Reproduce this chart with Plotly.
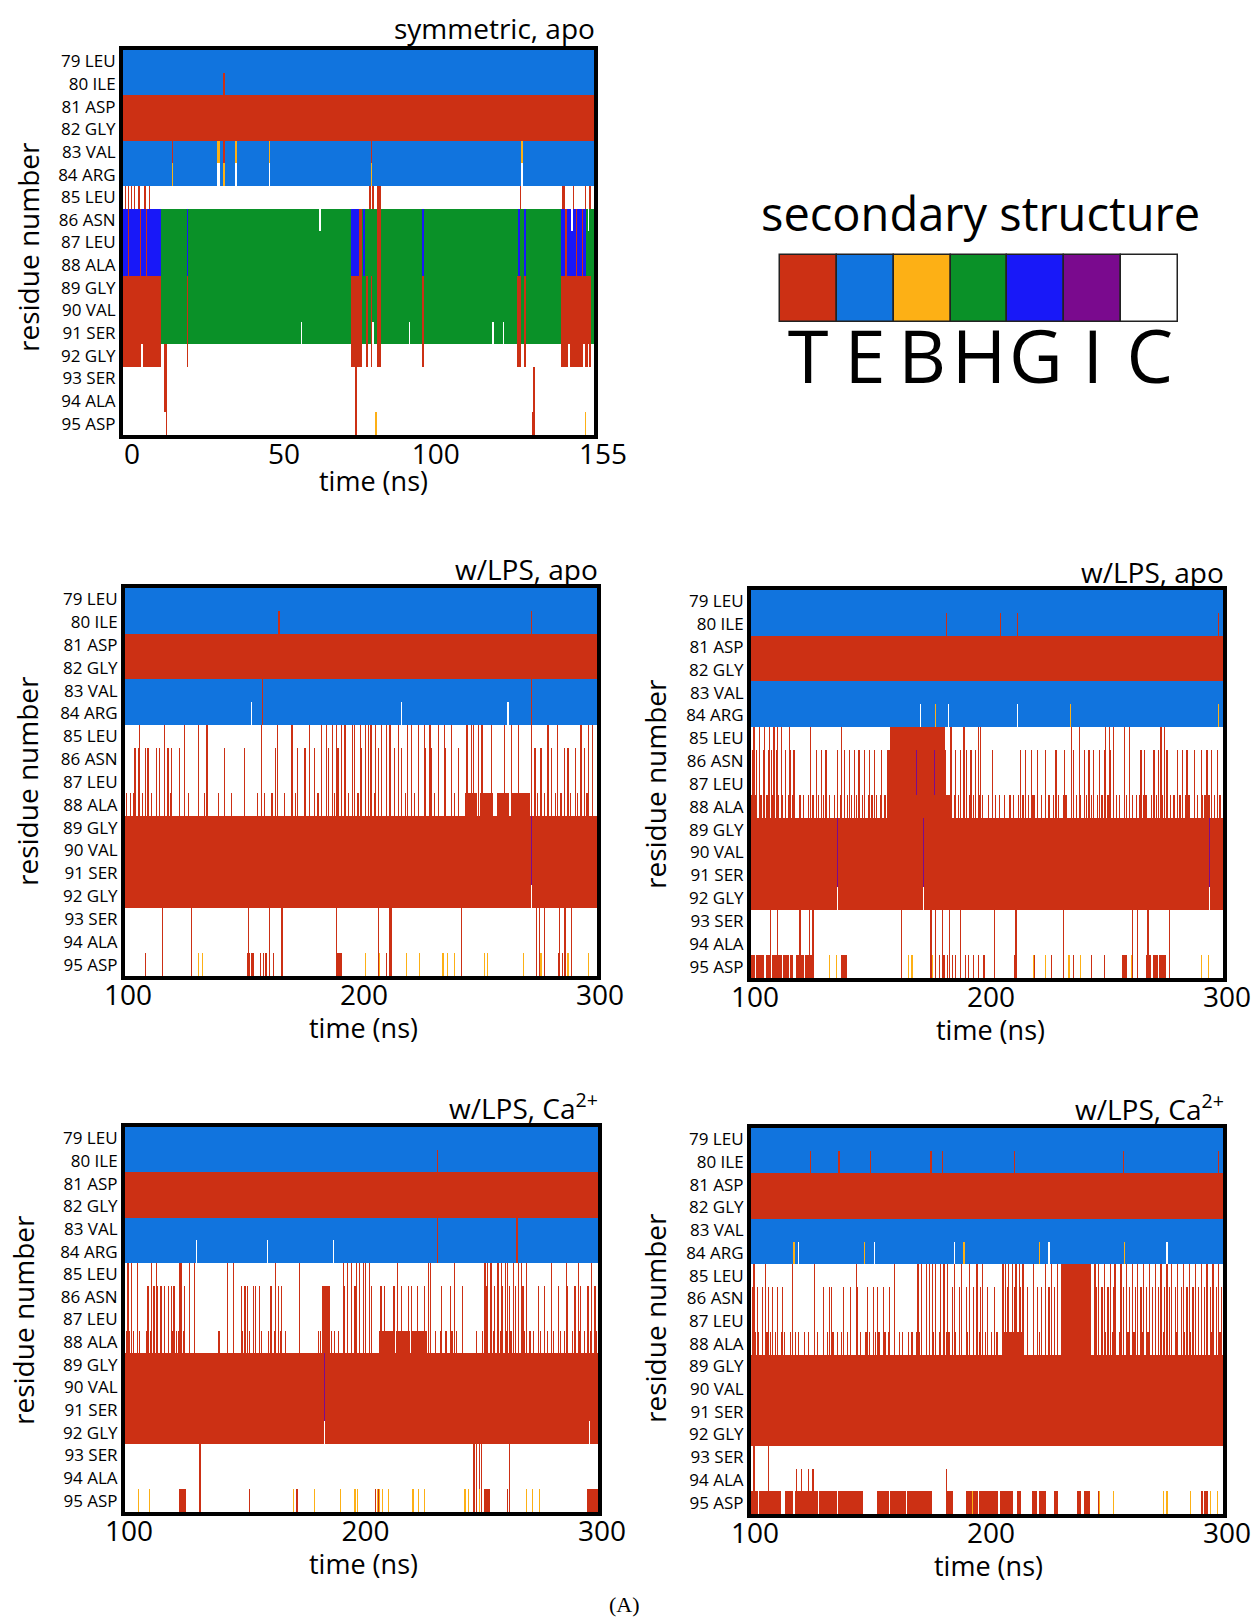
import numpy as np
import plotly.graph_objects as go

# ---------------- data ----------------
RESIDUES = ["79 LEU", "80 ILE", "81 ASP", "82 GLY", "83 VAL", "84 ARG", "85 LEU", "86 ASN",
            "87 LEU", "88 ALA", "89 GLY", "90 VAL", "91 SER", "92 GLY", "93 SER", "94 ALA", "95 ASP"]
STATES = ["T", "E", "B", "H", "G", "I", "C"]
STATE_COLORS = ["#CC3014", "#1174DE", "#FDB015", "#0A9128", "#1818F8", "#7A0A8E", "#FFFFFF"]
FRAME_NS = 0.5

# Panel 1 : symmetric, apo
P1_TITLE = "symmetric, apo"
P1_RANGE = (0, 155)
P1_TICKS = [0, 50, 100, 155]
P1_BASE = "EETTEECHHHHHHCCCC"
P1_SPANS = [
    (86, 88, "G", 0.0, 12.3), (89, 92, "T", 0.0, 12.3),
    (86, 88, "G", 75.3, 77.5), (89, 92, "T", 75.3, 77.5),
    (86, 92, "T", 77.5, 78.5), (85, 92, "T", 83.5, 85.0),
    (89, 92, "T", 129.5, 131.0),
    (86, 88, "G", 144.3, 152.5), (89, 92, "T", 144.3, 153.8),
]
P1_LINES = [
    (80, 80, "T", [33.3]),
    (83, 83, "T", [16.4, 33.3, 81.6]),
    (84, 84, "B", [16.4, 33.3, 81.6]),
    (83, 83, "B", [31.3, 31.8, 37.3, 48.2, 131.0]),
    (84, 84, "C", [31.3, 31.8, 37.3, 48.2, 131.0]),
    (85, 85, "T", [0.7, 1.6, 2.7, 3.7, 5.3, 7.3, 8.7, 81.2, 82.0, 130.6, 144.6, 145.3, 148.3, 152.3, 153.6]),
    (86, 88, "T", [1.5, 5.5, 7.5, 145.5, 149.0, 151.0]),
    (92, 92, "C", [6.0, 146.8, 151.6, 153.2]),
    (86, 88, "G", [21.3, 79.0, 98.6, 130.0, 132.0]),
    (89, 92, "T", [21.3, 80.2, 81.8, 98.6, 132.0]),
    (86, 86, "C", [64.6, 147.5, 153.0]),
    (91, 91, "C", [58.6, 82.3, 94.0, 121.5, 125.0]),
    (92, 94, "T", [13.7, 14.2]),
    (95, 95, "T", [14.4, 134.6]),
    (92, 95, "T", [76.6]),
    (95, 95, "B", [83.0, 152.4]),
    (93, 95, "T", [135.3]),
]

# Panel 2 : w/LPS, apo (left)
P2_TITLE = "w/LPS, apo"
P2_RANGE = (100, 300)
P2_TICKS = [100, 200, 300]
P2_BASE = "EETTEECCCCTTTTCCC"
P2_SPANS = [
    (88, 88, "T", 244.0, 249.0), (88, 88, "T", 250.5, 256.0), (88, 88, "T", 257.5, 262.5),
    (88, 88, "T", 264.0, 271.5), (95, 95, "T", 189.6, 192.0),
]
P2_LINES = [
    (80, 80, "T", [165.2, 272.4]),
    (84, 84, "C", [153.9, 217.1, 262.0]),
    (83, 84, "T", [158.3, 272.4]),
    (85, 88, "T", [106.4, 116.9, 125.4, 131.0, 134.6, 157.9, 164.9, 170.6, 178.3, 183.3, 185.0, 187.5,
                   189.5, 191.5, 193.1, 196.0, 197.4, 199.5, 201.5, 203.0, 204.4, 206.0, 208.7, 210.8,
                   212.0, 215.5, 219.9, 221.0, 224.2, 226.5, 229.0, 232.7, 235.0, 238.3, 244.6, 245.4,
                   246.8, 247.5, 249.6, 251.0, 255.2, 260.9, 263.7, 266.5, 272.2, 279.2, 283.4, 293.3,
                   296.1, 298.2]),
    (86, 88, "T", [104.2, 105.6, 108.5, 109.9, 113.4, 114.8, 118.3, 119.8, 123.3, 142.3, 150.8, 163.5,
                   173.4, 176.2, 180.4, 186.1, 190.3, 200.2, 207.2, 214.3, 217.1, 221.4, 227.0, 229.8,
                   235.5, 241.1, 273.6, 276.4, 280.6, 286.3, 287.7, 290.5, 294.7]),
    (88, 88, "T", [100.7, 102.1, 103.5, 107.1, 111.3, 119.1, 126.8, 133.9, 139.5, 145.2, 156.4, 159.3,
                   162.1, 167.7, 172.0, 181.8, 188.9, 194.5, 198.8, 205.8, 212.2, 218.5, 222.8, 231.2,
                   239.7, 274.5, 277.5, 282.0, 284.5, 288.5, 291.5, 295.5]),
    (89, 91, "I", [272.2]),
    (92, 92, "C", [272.2]),
    (93, 95, "T", [115.5, 128.2, 152.2, 161.4, 166.0, 166.5, 189.6, 207.2, 212.0, 212.5, 242.5, 274.0,
                   275.5, 277.5, 284.0, 286.0, 286.5, 289.0]),
    (95, 95, "T", [108.5, 151.5, 152.5, 153.5, 154.0, 157.2, 158.5, 159.5, 161.0, 162.5, 210.8, 283.5,
                   285.0, 287.5]),
    (95, 95, "B", [131.0, 132.5, 201.6, 207.5, 219.2, 224.9, 234.8, 236.9, 239.7, 252.4, 253.8, 268.6,
                   276.4, 287.7, 296.1]),
]

# Panel 3 : w/LPS, apo (right)
P3_TITLE = "w/LPS, apo"
P3_RANGE = (100, 300)
P3_TICKS = [100, 200, 300]
P3_BASE = "EETTEECCCCTTTTCCC"
P3_SPANS = [
    (85, 85, "T", 159.3, 181.8), (86, 87, "T", 157.9, 182.5), (88, 88, "T", 157.9, 184.7),
    (88, 88, "T", 219.0, 220.5), (88, 88, "T", 232.0, 234.0), (88, 88, "T", 266.0, 268.0),
    (88, 88, "T", 284.0, 286.0), (88, 88, "T", 292.0, 294.5),
    (95, 95, "T", 100.0, 101.5), (95, 95, "T", 102.0, 105.5), (95, 95, "T", 106.5, 108.0),
    (95, 95, "T", 109.0, 113.0), (95, 95, "T", 113.5, 116.0), (95, 95, "T", 116.5, 118.0),
    (95, 95, "T", 119.0, 122.5), (95, 95, "T", 123.0, 126.0), (95, 95, "T", 138.3, 140.3),
    (95, 95, "T", 257.3, 259.5), (95, 95, "T", 267.8, 269.5), (95, 95, "T", 270.5, 272.5),
    (95, 95, "T", 273.2, 275.8),
]
P3_LINES = [
    (80, 80, "T", [182.7, 205.7, 212.5, 298.3]),
    (84, 84, "C", [171.5, 183.5, 212.5]),
    (84, 84, "B", [178.0, 235.0, 298.0]),
    (85, 88, "T", [101.4, 103.5, 105.6, 107.8, 109.9, 111.3, 112.7, 116.2, 125.4, 138.1, 184.5, 190.3,
                   196.0, 197.4, 235.5, 239.0, 250.3, 251.7, 253.8, 258.1, 260.2, 273.6, 275.0]),
    (86, 88, "T", [100.7, 102.1, 103.5, 105.0, 107.1, 108.5, 110.6, 112.7, 114.8, 116.9, 118.3, 127.5,
                   129.7, 131.8, 136.7, 139.5, 141.6, 143.7, 145.9, 148.0, 150.1, 152.2, 155.0, 186.8,
                   188.9, 191.0, 193.1, 195.3, 202.3, 214.3, 216.4, 218.5, 221.4, 224.9, 229.1, 232.7,
                   236.9, 241.1, 243.2, 245.4, 247.5, 249.6, 252.4, 253.8, 258.1, 265.1, 266.5, 270.7,
                   272.9, 276.4, 280.6, 282.7, 284.8, 287.7, 290.5, 293.3, 295.4, 297.5]),
    (88, 88, "T", [100.0, 101.5, 104.0, 106.5, 109.0, 111.5, 113.0, 115.5, 117.5, 120.5, 122.0, 124.0,
                   126.0, 128.5, 130.5, 133.0, 135.0, 137.5, 140.5, 142.5, 144.5, 147.0, 149.5, 151.0,
                   153.0, 154.5, 156.5, 186.0, 187.5, 190.0, 192.5, 194.0, 196.5, 198.0, 200.5, 203.5,
                   205.0, 207.0, 209.5, 211.0, 213.0, 215.0, 217.5, 223.0, 226.0, 228.0, 230.0, 237.5,
                   239.5, 242.0, 244.0, 246.5, 248.5, 251.0, 254.5, 256.0, 259.0, 261.5, 263.0, 264.5,
                   269.5, 271.5, 274.0, 277.5, 279.0, 281.5, 289.0, 291.0, 296.0, 298.5]),
    (86, 87, "I", [170.3, 177.9]),
    (89, 91, "I", [136.7, 173.4, 294.0]),
    (92, 92, "C", [136.7, 173.4, 294.0]),
    (93, 95, "T", [108.2, 111.3, 120.5, 124.7, 126.1, 163.5, 176.2, 178.3, 181.1, 184.0, 188.9, 203.0,
                   212.2, 232.0, 261.6, 263.7, 268.0, 277.1]),
    (95, 95, "T", [179.5, 181.5, 183.0, 185.0, 186.5, 188.5, 190.5, 192.0, 194.0, 196.0, 198.5, 203.0,
                   211.5, 220.0, 227.0, 236.5, 244.0, 249.5]),
    (95, 95, "B", [133.0, 136.0, 166.5, 168.0, 176.5, 219.5, 224.5, 234.5, 239.5, 261.0, 290.5, 293.5]),
]

# Panel 4 : w/LPS, Ca2+ (left)
P4_TITLE = "w/LPS, Ca<sup>2+</sup>"
P4_RANGE = (100, 300)
P4_TICKS = [100, 200, 300]
P4_BASE = "EETTEECCCCTTTTCCC"
P4_SPANS = [
    (86, 88, "T", 183.6, 186.2),
    (88, 88, "T", 207.6, 213.5), (88, 88, "T", 214.5, 220.5), (88, 88, "T", 221.5, 227.5),
    (95, 95, "T", 123.4, 125.8), (95, 95, "T", 252.0, 254.2), (95, 95, "T", 295.7, 300.0),
]
P4_LINES = [
    (80, 80, "T", [232.0]),
    (84, 84, "C", [130.2, 160.4, 188.1]),
    (83, 84, "T", [232.1, 265.8]),
    (85, 88, "T", [101.1, 102.5, 105.4, 111.0, 113.1, 123.0, 123.7, 127.2, 129.3, 143.4, 145.5, 163.9,
                   173.7, 192.1, 194.2, 195.6, 197.7, 199.1, 200.5, 201.9, 203.4, 215.3, 228.0, 229.4,
                   239.3, 252.0, 253.4, 254.8, 257.6, 259.0, 260.5, 261.9, 264.0, 266.1, 267.5, 269.6,
                   280.2, 286.5, 291.5, 297.1]),
    (86, 88, "T", [109.6, 111.0, 112.4, 113.8, 115.2, 116.6, 118.0, 119.5, 120.9, 123.7, 125.1, 149.1,
                   150.5, 151.9, 154.0, 155.4, 156.8, 161.8, 164.6, 166.0, 192.8, 197.0, 204.1, 208.3,
                   209.7, 213.9, 216.7, 219.6, 221.0, 223.8, 226.6, 229.4, 233.7, 237.9, 242.8, 252.7,
                   256.2, 259.8, 262.6, 265.4, 268.2, 274.6, 277.4, 280.2, 283.1, 287.3, 290.1, 292.9,
                   295.7, 298.6]),
    (88, 88, "T", [100.5, 101.8, 103.5, 105.0, 106.0, 109.0, 110.5, 120.2, 121.5, 122.8, 124.5, 125.2,
                   139.5, 149.5, 150.8, 152.5, 157.5, 160.5, 163.0, 165.5, 167.5, 181.5, 182.5, 187.0,
                   188.5, 190.0, 231.0, 233.0, 235.5, 238.0, 240.0, 248.5, 251.0, 255.5, 258.5, 261.0,
                   263.0, 266.0, 268.5, 271.0, 272.5, 275.5, 278.5, 281.0, 284.0, 285.5, 289.0, 292.0,
                   294.0, 296.5, 299.0]),
    (89, 91, "I", [184.3]),
    (92, 92, "C", [184.3, 296.0]),
    (93, 95, "T", [131.9, 247.0, 247.5, 248.5, 249.5, 250.5, 262.6]),
    (95, 95, "T", [152.6, 172.5, 205.8, 207.0, 261.8]),
    (95, 95, "B", [105.9, 110.3, 171.3, 180.0, 191.3, 197.0, 198.3, 206.5, 207.5, 208.5, 211.0, 221.9,
                   224.0, 226.9, 243.6, 245.0, 249.5, 269.6, 272.4, 275.2]),
]

# Panel 5 : w/LPS, Ca2+ (right)
P5_TITLE = "w/LPS, Ca<sup>2+</sup>"
P5_RANGE = (100, 300)
P5_TICKS = [100, 200, 300]
P5_BASE = "EETTEECCCCTTTTCCC"
P5_SPANS = [
    (85, 88, "T", 231.9, 243.9),
    (88, 88, "T", 170.0, 171.5), (88, 88, "T", 182.5, 184.5), (88, 88, "T", 206.5, 215.0),
    (95, 95, "T", 100.0, 103.0), (95, 95, "T", 103.5, 112.5), (95, 95, "T", 114.5, 118.0),
    (95, 95, "T", 118.5, 128.5), (95, 95, "T", 129.0, 136.5), (95, 95, "T", 137.0, 147.3),
    (95, 95, "T", 153.6, 158.5), (95, 95, "T", 159.0, 165.5), (95, 95, "T", 166.0, 176.2),
    (95, 95, "T", 183.0, 185.4), (95, 95, "T", 191.0, 196.0), (95, 95, "T", 196.5, 204.5),
    (95, 95, "T", 205.5, 210.8), (95, 95, "T", 212.5, 214.5), (95, 95, "T", 219.2, 221.0),
    (95, 95, "T", 222.0, 224.9), (95, 95, "T", 228.8, 229.6), (95, 95, "T", 238.3, 240.0),
    (95, 95, "T", 241.0, 243.2), (95, 95, "T", 247.2, 247.8), (95, 95, "T", 290.5, 291.5),
    (95, 95, "T", 292.3, 293.3),
]
P5_LINES = [
    (80, 80, "T", [125.4, 137.3, 150.8, 176.3, 181.4, 211.9, 257.6, 298.0]),
    (84, 84, "C", [120.0, 152.0, 186.0, 226.0, 276.0]),
    (84, 84, "B", [118.0, 148.0, 190.0, 222.0, 258.0]),
    (85, 88, "T", [101.4, 106.3, 117.6, 126.8, 144.5, 160.7, 170.6, 172.0, 174.1, 175.5, 176.9, 178.3,
                   180.4, 181.8, 183.3, 186.0, 189.0, 192.5, 195.5, 198.0, 206.5, 207.9, 209.4, 210.8,
                   212.2, 213.6, 215.0, 219.9, 224.9, 227.0, 229.8, 245.5, 247.0, 249.5, 252.0, 254.0,
                   256.5, 259.0, 261.5, 263.5, 266.0, 268.5, 271.0, 273.5, 276.0, 278.0, 280.5, 283.0,
                   285.5, 288.0, 290.5, 293.0, 295.5, 298.0]),
    (86, 88, "T", [100.7, 102.8, 104.9, 107.1, 109.2, 111.3, 113.4, 130.9, 133.0, 134.4, 139.4, 142.3,
                   145.2, 149.4, 151.5, 153.6, 156.4, 158.5, 185.0, 188.0, 191.0, 194.0, 197.0, 200.0,
                   203.0, 208.5, 211.5, 214.0, 217.0, 221.0, 223.0, 226.0, 228.5, 246.0, 248.5, 251.0,
                   253.5, 257.5, 260.0, 262.5, 265.0, 267.5, 270.0, 272.5, 275.0, 277.0, 279.5, 282.0,
                   284.5, 287.0, 289.5, 292.0, 294.5, 297.0, 299.0]),
    (88, 88, "T", [100.5, 101.5, 103.0, 104.5, 106.5, 108.0, 110.0, 112.5, 114.0, 116.5, 118.5, 120.0,
                   122.5, 124.0, 126.5, 128.0, 130.5, 132.0, 134.5, 136.5, 138.0, 140.5, 142.0, 144.5,
                   146.0, 148.5, 150.0, 152.5, 154.0, 156.5, 158.0, 160.5, 162.5, 164.0, 166.5, 168.0,
                   174.0, 177.0, 179.5, 186.5, 189.0, 191.5, 194.0, 196.5, 199.0, 201.5, 204.0, 217.0,
                   219.5, 222.0, 224.5, 227.0, 229.5, 247.0, 250.0, 253.0, 256.0, 259.5, 262.0, 265.5,
                   268.0, 271.0, 274.5, 277.0, 280.0, 283.5, 286.0, 289.5, 292.0, 295.0, 298.5]),
    (93, 95, "T", [101.4, 107.0]),
    (94, 95, "T", [119.0, 121.2, 124.0, 126.1, 182.8]),
    (95, 95, "B", [193.5, 247.8, 253.5, 274.5, 276.0, 286.0, 294.5, 297.5]),
]

PANELS = [
    (P1_TITLE, P1_RANGE, P1_TICKS, P1_BASE, P1_SPANS, P1_LINES),
    (P2_TITLE, P2_RANGE, P2_TICKS, P2_BASE, P2_SPANS, P2_LINES),
    (P3_TITLE, P3_RANGE, P3_TICKS, P3_BASE, P3_SPANS, P3_LINES),
    (P4_TITLE, P4_RANGE, P4_TICKS, P4_BASE, P4_SPANS, P4_LINES),
    (P5_TITLE, P5_RANGE, P5_TICKS, P5_BASE, P5_SPANS, P5_LINES),
]

# ---------------- layout geometry (pixels) ----------------
W, H = 1257, 1617
# inner plot boxes: (left, right, top, bottom)
BOXES = [
    (123, 594, 50, 435),
    (125, 597, 588, 976),
    (751, 1223, 590, 978),
    (125, 598, 1127, 1512),
    (751, 1223, 1128, 1514),
]
TICK_SHIFT = [9, 3, 4, 4, 4]
TITLE_POS = [(597, 28), (600, 569), (1226, 572), (600, 1106), (1226, 1107)]
XTITLE_POS = [(373, 481), (363, 1027), (990, 1029), (363, 1563), (988, 1565)]
YTITLE_POS = [(28, 247), (27, 781), (655, 784), (23, 1320), (655, 1318)]
LEGEND_BOX = (778, 1180, 253, 324)
FONT = "Open Sans"


def px_x(x):
    return x / W


def px_y(y):
    return 1 - y / H


CODE = {s: i for i, s in enumerate(STATES)}


def build_matrix(base, trange, spans, lines):
    t0, t1 = trange
    n = int(round((t1 - t0) / FRAME_NS))
    times = t0 + FRAME_NS * (np.arange(n) + 0.5)
    z = np.array([[CODE[s]] * n for s in base], dtype=float)
    for r0, r1, s, a, b in spans:
        i0 = max(int(np.floor((a - t0) / FRAME_NS)), 0)
        i1 = min(int(np.ceil((b - t0) / FRAME_NS)), n)
        z[r0 - 79:r1 - 79 + 1, i0:i1] = CODE[s]
    for r0, r1, s, tl in lines:
        for tt in tl:
            i = min(max(int((tt - t0) / FRAME_NS), 0), n - 1)
            z[r0 - 79:r1 - 79 + 1, i] = CODE[s]
    return times, z


colorscale = []
for k, c in enumerate(STATE_COLORS):
    colorscale.append([k / len(STATE_COLORS), c])
    colorscale.append([(k + 1) / len(STATE_COLORS), c])

fig = go.Figure()
layout = {}
annotations = []

for i, (panel, box) in enumerate(zip(PANELS, BOXES), start=1):
    title, trange, ticks, base, spans, lines = panel
    times, z = build_matrix(base, trange, spans, lines)
    xs = "x" if i == 1 else f"x{i}"
    ys = "y" if i == 1 else f"y{i}"
    fig.add_trace(go.Heatmap(
        x=times, y=list(range(len(RESIDUES))), z=z,
        zmin=-0.5, zmax=len(STATES) - 0.5, colorscale=colorscale,
        showscale=False, hoverinfo="skip", xaxis=xs, yaxis=ys,
    ))
    l, r, t, b = box
    xa = "xaxis" if i == 1 else f"xaxis{i}"
    ya = "yaxis" if i == 1 else f"yaxis{i}"
    layout[xa] = dict(
        domain=[px_x(l), px_x(r)], anchor=ys, range=list(trange), automargin=False,
        tickmode="array", tickvals=ticks, ticktext=[str(v) for v in ticks],
        ticks="", showgrid=False, zeroline=False, ticklabelstandoff=-9,
        ticklabelshift=TICK_SHIFT[i - 1],
        showline=True, mirror=True, linewidth=4, linecolor="black",
        tickfont=dict(size=28, color="black", family=FONT),
    )
    layout[ya] = dict(
        domain=[px_y(b), px_y(t)], anchor=xs, range=[len(RESIDUES) - 0.5, -0.5], automargin=False,
        tickmode="array", tickvals=list(range(len(RESIDUES))), ticktext=RESIDUES,
        ticks="", showgrid=False, zeroline=False,
        showline=True, mirror=True, linewidth=4, linecolor="black",
        tickfont=dict(size=17, color="black", family=FONT),
    )
    tx, ty = TITLE_POS[i - 1]
    annotations.append(dict(text=title, x=px_x(tx), y=px_y(ty), xref="paper", yref="paper",
                            xanchor="right", yanchor="middle", showarrow=False,
                            font=dict(size=28, color="black", family=FONT)))
    tx, ty = XTITLE_POS[i - 1]
    annotations.append(dict(text="time (ns)", x=px_x(tx), y=px_y(ty), xref="paper", yref="paper",
                            xanchor="center", yanchor="middle", showarrow=False,
                            font=dict(size=27, color="black", family=FONT)))
    tx, ty = YTITLE_POS[i - 1]
    annotations.append(dict(text="residue number", x=px_x(tx), y=px_y(ty), xref="paper", yref="paper",
                            xanchor="center", yanchor="middle", showarrow=False, textangle=-90,
                            font=dict(size=28, color="black", family=FONT)))

# secondary-structure legend drawn as a bar strip
fig.add_trace(go.Bar(
    x=STATES, y=[1] * len(STATES), width=1,
    marker=dict(color=STATE_COLORS, line=dict(color="#222222", width=1.5)),
    hoverinfo="skip", xaxis="x6", yaxis="y6", showlegend=False,
))
l, r, t, b = LEGEND_BOX
layout["xaxis6"] = dict(domain=[px_x(l), px_x(r)], anchor="y6", range=[-0.53, len(STATES) - 0.47],
                        type="category", tickmode="array", tickvals=STATES, ticktext=STATES,
                        automargin=False, ticks="", showgrid=False, zeroline=False, showline=False,
                        ticklabelstandoff=-16,
                        tickfont=dict(size=74, color="black", family=FONT))
layout["yaxis6"] = dict(domain=[px_y(b), px_y(t)], anchor="x6", range=[-0.03, 1.03], visible=False,
                        automargin=False)
annotations.append(dict(text="secondary structure", x=px_x(980), y=px_y(213), xref="paper", yref="paper",
                        xanchor="center", yanchor="middle", showarrow=False,
                        font=dict(size=47, color="black", family=FONT)))
annotations.append(dict(text="(A)", x=px_x(624), y=px_y(1604), xref="paper", yref="paper",
                        xanchor="center", yanchor="middle", showarrow=False,
                        font=dict(size=22, color="black", family="Liberation Serif")))

fig.update_layout(
    width=W, height=H, margin=dict(l=0, r=0, t=0, b=0, autoexpand=False),
    paper_bgcolor="white", plot_bgcolor="white", showlegend=False, bargap=0,
    font=dict(family=FONT, color="black"),
    annotations=annotations, **layout,
)

fig.write_html("out.html")
